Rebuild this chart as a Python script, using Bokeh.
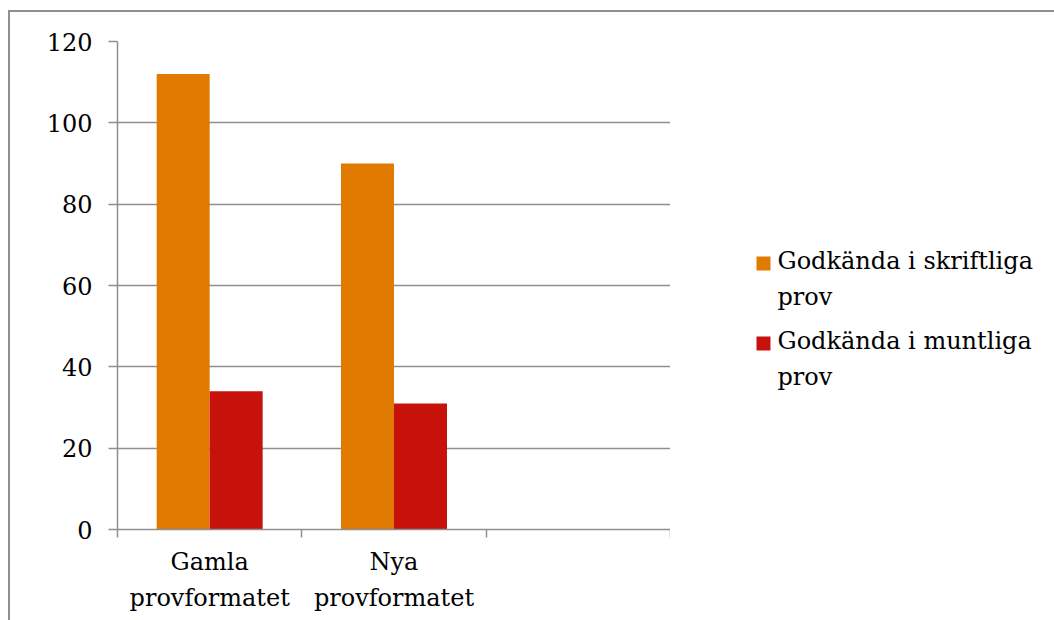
from bokeh.plotting import figure
from bokeh.layouts import row
from bokeh.models import Range1d, FixedTicker, ColumnDataSource
from bokeh.core.properties import value
from bokeh.embed import file_html
from bokeh.resources import INLINE

categories = ["Gamla\nprovformatet", "Nya\nprovformatet", ""]
series_names = ["Godkända i skriftliga\nprov", "Godkända i muntliga\nprov"]
skriftliga = [112, 90]
muntliga = [34, 31]
y_ticks = [0, 20, 40, 60, 80, 100, 120]
colors = ["#E17A00", "#C7120C"]

FONT = "DejaVu Serif"
FS = "24px"
GRAY = "#8f8f8f"
H = 608
BT, BB = 29, 91          # top / bottom borders shared by both panels

# ---------------- main chart ----------------
p = figure(width=660, height=H, output_backend="svg", toolbar_location=None,
           x_range=Range1d(0, len(categories)), y_range=Range1d(0, 120),
           min_border_left=107, min_border_top=BT, min_border_right=0, min_border_bottom=BB)
p.outline_line_color = None
p.background_fill_color = "white"

bw = 0.2875
idx = list(range(len(skriftliga)))
src1 = ColumnDataSource(dict(x=[i + 0.5 - bw / 2 for i in idx], top=skriftliga))
src2 = ColumnDataSource(dict(x=[i + 0.5 + bw / 2 for i in idx], top=muntliga))
p.vbar(x="x", top="top", bottom=0, width=bw, source=src1, fill_color=colors[0], line_color=None)
p.vbar(x="x", top="top", bottom=0, width=bw, source=src2, fill_color=colors[1], line_color=None)

# y axis
p.yaxis.ticker = FixedTicker(ticks=y_ticks)
p.yaxis.axis_line_color = GRAY
p.yaxis.axis_line_width = 1.5
p.yaxis.major_tick_line_color = GRAY
p.yaxis.major_tick_line_width = 1.5
p.yaxis.major_tick_out = 9
p.yaxis.major_tick_in = 0
p.yaxis.minor_tick_line_color = None
p.yaxis.major_label_text_font = FONT
p.yaxis.major_label_text_font_size = FS
p.yaxis.major_label_text_color = "black"
p.yaxis.major_label_standoff = 16

# x axis: labels at category centres, tick marks at category boundaries
centers = [i + 0.5 for i in range(len(categories))]
p.xaxis.ticker = FixedTicker(ticks=centers, minor_ticks=list(range(len(categories) + 1)))
p.xaxis.major_label_overrides = {c: lab for c, lab in zip(centers, categories)}
p.xaxis.axis_line_color = GRAY
p.xaxis.axis_line_width = 1.5
p.xaxis.major_tick_line_color = None
p.xaxis.major_tick_out = 0
p.xaxis.major_tick_in = 0
p.xaxis.minor_tick_line_color = GRAY
p.xaxis.minor_tick_line_width = 1.5
p.xaxis.minor_tick_out = 8
p.xaxis.minor_tick_in = 0
p.xaxis.major_label_text_font = FONT
p.xaxis.major_label_text_font_size = FS
p.xaxis.major_label_text_line_height = 1.3
p.xaxis.major_label_text_color = "black"
p.xaxis.major_label_standoff = 10

p.xgrid.grid_line_color = None
p.ygrid.ticker = FixedTicker(ticks=y_ticks)
p.ygrid.grid_line_color = GRAY
p.ygrid.grid_line_width = 1.5

# ---------------- legend panel (coordinates = page pixels) ----------------
LW = 384
x0_page, top_page = 670, 12 + BT
q = figure(width=LW, height=H, output_backend="svg", toolbar_location=None,
           x_range=Range1d(x0_page, x0_page + LW),
           y_range=Range1d(top_page + H - BT - BB, top_page),
           x_axis_type=None, y_axis_type=None,
           min_border_left=0, min_border_right=0, min_border_top=BT, min_border_bottom=BB)
q.outline_line_color = None
q.xgrid.grid_line_color = None
q.ygrid.grid_line_color = None

key_x, key_y0, pitch, key = 756, 256, 80, 14
n = len(series_names)
q.rect(x=[key_x + key / 2] * n, y=[key_y0 + key / 2 + i * pitch for i in range(n)],
       width=key, height=key, fill_color=colors, line_color=None)
q.text(x=[key_x + key + 7] * n, y=[key_y0 - 10 + i * pitch for i in range(n)],
       text=series_names, text_font=value(FONT), text_font_size=FS,
       text_baseline="top", text_align="left", text_line_height=1.3, text_color="black")

layout = row(p, q, spacing=0)
layout.styles = {"margin-left": "8px", "margin-top": "10px",
                 "border-top": f"2px solid {GRAY}", "border-left": f"2px solid {GRAY}"}

open("out.html", "w").write(file_html(layout, INLINE))
